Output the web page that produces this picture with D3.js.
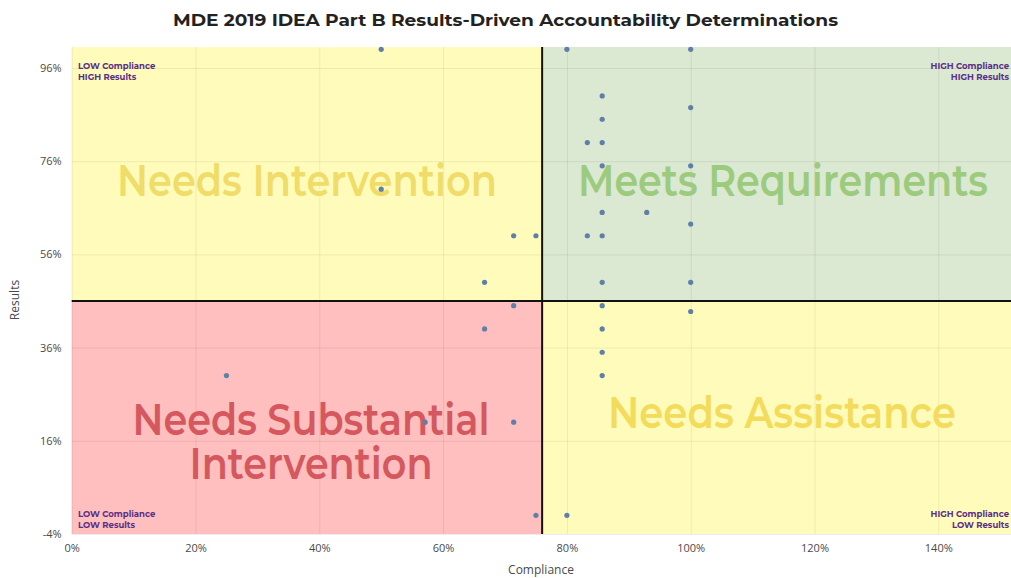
<!DOCTYPE html>
<html>
<head>
<meta charset="utf-8">
<script src="https://cdn.jsdelivr.net/npm/d3@7"></script>
<style>
  html, body { margin: 0; padding: 0; background: #fff; }
  svg { display: block; }
</style>
</head>
<body>
<svg id="chart" width="1011" height="578"></svg>
<script>
// ---- data ----
const compliance = [50, 80, 100, 85.7, 100, 85.7, 83.3, 85.7, 85.7, 100, 50, 85.7, 92.9, 100, 71.4, 75, 83.3, 85.7, 66.7, 85.7, 100, 71.4, 85.7, 100, 66.7, 85.7, 85.7, 85.7, 25, 57.1, 71.4, 75, 80];
const results    = [100, 100, 100, 90, 87.5, 85, 80, 80, 75, 75, 70, 65, 65, 62.5, 60, 60, 60, 60, 50, 50, 50, 45, 45, 43.75, 40, 40, 35, 30, 30, 20, 20, 0, 0];
const xTicks = [0, 20, 40, 60, 80, 100, 120, 140];
const yTicks = [-4, 16, 36, 56, 76, 96];
const complianceCut = 76;
const resultsCut = 46;
const quadrantNames = ["Needs Intervention", "Meets Requirements", "Needs Substantial Intervention", "Needs Assistance"];
const cornerNotes = [["LOW Compliance", "HIGH Results"], ["HIGH Compliance", "HIGH Results"], ["LOW Compliance", "LOW Results"], ["HIGH Compliance", "LOW Results"]];
const title = "MDE 2019 IDEA Part B Results-Driven Accountability Determinations";

// ---- chart ----
const svg = d3.select("#chart");
const x = d3.scaleLinear().domain([0, 152]).range([71.7, 71.7 + 152 * 6.19]);
const y = d3.scaleLinear().domain([-4, 100.5]).range([534, 534 - 104.5 * 4.66]);
const [x0, x1] = [x(0), 1011];
const [yb, yt] = [y(-4), y(100.5)];

// quadrant backgrounds
const quads = [
  {x: x0, y: yt, w: x(complianceCut) - x0, h: y(resultsCut) - yt, fill: "#fffcbb"},
  {x: x(complianceCut), y: yt, w: x1 - x(complianceCut), h: y(resultsCut) - yt, fill: "#dbe8d2"},
  {x: x0, y: y(resultsCut), w: x(complianceCut) - x0, h: yb - y(resultsCut), fill: "#ffbfbf"},
  {x: x(complianceCut), y: y(resultsCut), w: x1 - x(complianceCut), h: yb - y(resultsCut), fill: "#fffcbb"}
];
svg.append("g").selectAll("rect").data(quads).join("rect")
  .attr("x", d => d.x).attr("y", d => d.y).attr("width", d => d.w).attr("height", d => d.h)
  .attr("fill", d => d.fill);

// gridlines
const grid = svg.append("g").attr("stroke", "rgba(0,0,0,0.07)").attr("stroke-width", 1);
grid.selectAll("line.v").data(xTicks).join("line").attr("class", "v")
  .attr("x1", d => x(d) + 0.5).attr("x2", d => x(d) + 0.5).attr("y1", yt).attr("y2", yb);
grid.selectAll("line.h").data(yTicks).join("line").attr("class", "h")
  .attr("x1", x0).attr("x2", x1).attr("y1", d => y(d) + 0.5).attr("y2", d => y(d) + 0.5);

// quadrant names
const big = svg.append("g").attr("font-family", "Montserrat, 'Open Sans', sans-serif").attr("font-weight", 600)
  .attr("text-anchor", "middle").attr("font-size", 45);
const bigLabels = [
  {lines: [quadrantNames[0]], cx: 307, by: 196, lens: [380], fill: "#f0dc68"},
  {lines: [quadrantNames[1]], cx: 783, by: 196, lens: [410], fill: "#9ccb7e"},
  {lines: ["Needs Substantial", "Intervention"], cx: 311, by: 435, lens: [357, 243], fill: "#d4585e"},
  {lines: [quadrantNames[3]], cx: 782, by: 428, lens: [348], fill: "#f3db5c"}
];
bigLabels.forEach(d => {
  const t = big.append("text").attr("x", d.cx).attr("y", d.by).attr("fill", d.fill);
  d.lines.forEach((l, j) => t.append("tspan").attr("x", d.cx).attr("dy", j ? 44 : 0)
    .attr("textLength", d.lens[j]).attr("lengthAdjust", "spacingAndGlyphs").text(l));
});

// corner notes
const corner = svg.append("g").attr("font-family", "Montserrat, 'Open Sans', sans-serif")
  .attr("font-weight", 700).attr("font-size", 8.5).attr("fill", "#5a2f86");
const cornerPos = [
  {x: 78, y: 69, anchor: "start"},
  {x: 1009, y: 69, anchor: "end"},
  {x: 78, y: 517, anchor: "start"},
  {x: 1009, y: 517, anchor: "end"}
];
cornerNotes.forEach((lines, i) => {
  const t = corner.append("text").attr("x", cornerPos[i].x).attr("y", cornerPos[i].y)
    .attr("text-anchor", cornerPos[i].anchor);
  lines.forEach((l, j) => t.append("tspan").attr("x", cornerPos[i].x).attr("dy", j ? 10.5 : 0).text(l));
});

// divider lines
svg.append("line").attr("x1", x(complianceCut)).attr("x2", x(complianceCut)).attr("y1", yt).attr("y2", yb)
  .attr("stroke", "#111").attr("stroke-width", 2);
svg.append("line").attr("x1", x0).attr("x2", x1).attr("y1", y(resultsCut)).attr("y2", y(resultsCut))
  .attr("stroke", "#111").attr("stroke-width", 2);

// points
svg.append("g").selectAll("circle").data(compliance.map((c, i) => [c, results[i]])).join("circle")
  .attr("cx", d => x(d[0])).attr("cy", d => y(d[1])).attr("r", 2.6).attr("fill", "#5e80a8");

// axes
const xAxis = svg.append("g").attr("transform", `translate(0,${yb})`)
  .call(d3.axisBottom(x).tickValues(xTicks).tickSize(0).tickPadding(10).tickFormat(d => d + "%"));
const yAxis = svg.append("g").attr("transform", `translate(${x0},0)`)
  .call(d3.axisLeft(y).tickValues(yTicks).tickSize(0).tickPadding(10).tickFormat(d => d + "%"));
[xAxis, yAxis].forEach(a => {
  a.select(".domain").remove();
  a.selectAll("text").attr("font-family", "'Open Sans', sans-serif").attr("font-size", 11).attr("fill", "#4a4a4a");
});

// axis titles
svg.append("text").attr("x", 541).attr("y", 574).attr("text-anchor", "middle")
  .attr("font-family", "'Open Sans', sans-serif").attr("font-size", 12).attr("fill", "#4a4a4a").text("Compliance");
svg.append("text").attr("transform", "translate(19,300) rotate(-90)").attr("text-anchor", "middle")
  .attr("font-family", "'Open Sans', sans-serif").attr("font-size", 12).attr("fill", "#4a4a4a").text("Results");

// title
svg.append("text").attr("x", 505.5).attr("y", 26).attr("text-anchor", "middle")
  .attr("font-family", "Montserrat, 'Open Sans', sans-serif").attr("font-weight", 700).attr("font-size", 16)
  .attr("fill", "#222").attr("textLength", 665).attr("lengthAdjust", "spacingAndGlyphs").text(title);
</script>
</body>
</html>
